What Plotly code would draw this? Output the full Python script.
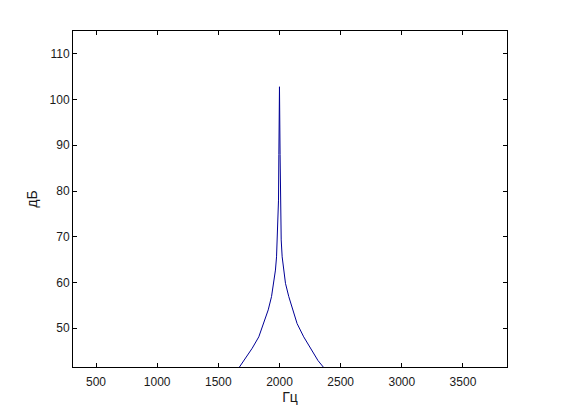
import plotly.graph_objects as go

# Spectrum (Hz, dB)
freq_hz = [1650, 1674, 1723, 1777, 1831, 1872, 1908, 1935, 1954, 1967, 1976,
           1981, 1986, 1992,
           1995, 2000, 2005,
           2007, 2011, 2014, 2022, 2035, 2049, 2076, 2108, 2144, 2198,
           2253, 2315, 2361, 2390]
level_db = [40.6, 41.5, 43.4, 45.6, 48.1, 51.0, 54.0, 56.9, 59.8, 62.7, 65.6,
            69.3, 74.4, 78.0,
            88.0, 102.8, 88.0,
            78.0, 73.6, 69.3, 65.6, 62.7, 59.8, 56.9, 54.0, 51.0, 48.1,
            45.6, 42.9, 41.4, 40.5]

x_ticks = [500, 1000, 1500, 2000, 2500, 3000, 3500]
y_ticks = [50, 60, 70, 80, 90, 100, 110]
x_range = [312, 3860]
y_range = [41.5, 115]

fig = go.Figure()
fig.add_trace(go.Scatter(x=freq_hz, y=level_db, mode="lines",
                         line=dict(color="rgb(0,0,150)", width=1),
                         showlegend=False))

axis_common = dict(showline=True, linecolor="black", linewidth=1, mirror="ticks",
                   ticks="inside", ticklen=4, tickcolor="black",
                   showgrid=False, zeroline=False,
                   tickfont=dict(family="Liberation Sans, Arial", size=12, color="#1a1a1a"))

fig.update_layout(
    width=561, height=413,
    margin=dict(l=65, r=62, t=23, b=54),
    paper_bgcolor="white", plot_bgcolor="white",
    font=dict(family="Liberation Sans, Arial", size=12, color="#1a1a1a"),
    xaxis=dict(range=x_range, tickvals=x_ticks, ticklabelstandoff=4,
               title=dict(text="Гц", standoff=0), **axis_common),
    yaxis=dict(range=y_range, tickvals=y_ticks,
               title=dict(text="дБ", standoff=8), **axis_common),
)

fig.write_html("out.html")
